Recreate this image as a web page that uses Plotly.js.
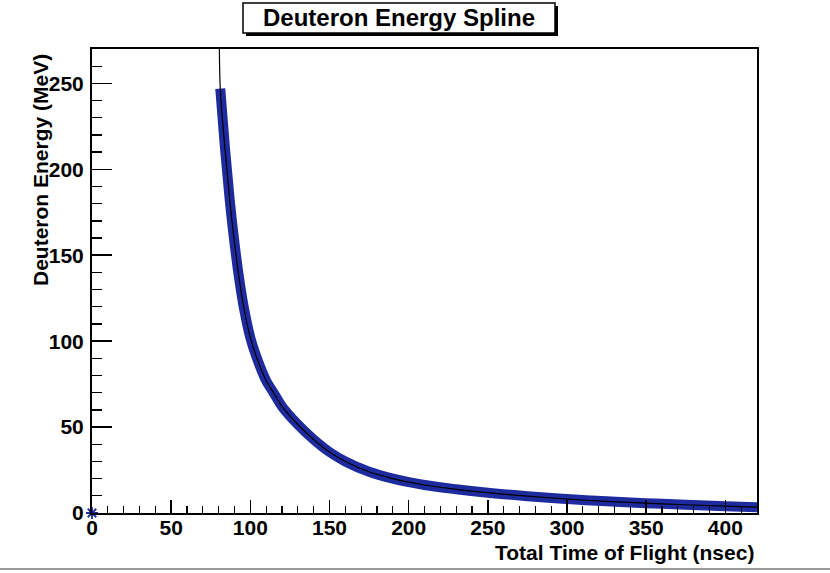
<!DOCTYPE html>
<html>
<head>
<meta charset="utf-8">
<script src="https://cdn.plot.ly/plotly-3.0.1.min.js"></script>
<style>
  html, body { margin: 0; padding: 0; background: #ffffff; }
  #chart { width: 830px; height: 573px; }
</style>
</head>
<body>
<div id="chart"></div>
<script>
// Spline knots: total time of flight (ns) and deuteron kinetic energy (MeV)
const timeNs = [81, 84, 87, 90, 93, 96, 100, 105, 110, 115, 120, 130, 140, 150, 160, 175, 190, 210, 230, 250, 275, 300, 325, 350, 375, 400, 420];
const energyMeV = [247, 212, 182, 157, 136, 119, 102, 88, 77, 69.5, 62, 51.5, 42.8, 35.5, 30, 24, 20, 16.3, 13.8, 11.8, 9.8, 8.1, 6.8, 5.7, 4.8, 4.0, 3.4];

// Table origin point
const originT = [0];
const originE = [0];

// Spline overshoot just before the first knot (runs off the top of the frame)
const leadT = [80.4];
const leadE = [300];

// Axis ranges and tick labels
const xRange = [0, 420];
const yRange = [0, 270];
const xTicks = [0, 50, 100, 150, 200, 250, 300, 350, 400];
const yTicks = [0, 50, 100, 150, 200, 250];

const BLUE = '#1d2b9e';
const FONT = 'Liberation Sans, Arial, Helvetica, sans-serif';

const band = {
  x: timeNs, y: energyMeV,
  type: 'scatter', mode: 'lines',
  line: { color: BLUE, width: 10, shape: 'spline', smoothing: 1 },
  hoverinfo: 'skip', showlegend: false
};

const spline = {
  x: leadT.concat(timeNs), y: leadE.concat(energyMeV),
  type: 'scatter', mode: 'lines',
  line: { color: '#000000', width: 1.2, shape: 'spline', smoothing: 1 },
  showlegend: false
};

const origin = {
  x: originT, y: originE,
  type: 'scatter', mode: 'markers',
  marker: { symbol: 'asterisk-open', size: 10, color: BLUE, line: { color: BLUE, width: 1.8 } },
  cliponaxis: false, showlegend: false
};

const tickFont = { family: FONT, size: 21, weight: 'bold', color: '#000000' };
const titleFont = { family: FONT, size: 21, weight: 'bold', color: '#000000' };

// plot-area geometry helpers (pixels -> paper fractions)
const L = 92, R = 757, T = 49, B = 513;
const px = v => (v - L) / (R - L);
const py = v => (B - v) / (B - T);

const layout = {
  width: 830, height: 573,
  margin: { l: L, r: 830 - R, t: T, b: 573 - B },
  paper_bgcolor: '#ffffff', plot_bgcolor: '#ffffff',
  showlegend: false,
  title: {
    text: 'Deuteron Energy Spline',
    font: { family: FONT, size: 24, weight: 'bold', color: '#000000' },
    xref: 'container', yref: 'container',
    x: 399 / 830, y: 1 - 18 / 573,
    xanchor: 'center', yanchor: 'middle'
  },
  xaxis: {
    range: xRange, tickvals: xTicks, ticktext: xTicks.map(String),
    ticks: 'inside', ticklen: 13, tickwidth: 1.5, tickcolor: '#000000',
    minor: { ticks: 'inside', ticklen: 7, dtick: 10, tick0: 0, tickwidth: 1.3, tickcolor: '#000000', showgrid: false },
    showline: true, linewidth: 2, linecolor: '#000000', mirror: true,
    showgrid: false, zeroline: false,
    tickfont: tickFont, ticklabelstandoff: -5
  },
  yaxis: {
    range: yRange, tickvals: yTicks, ticktext: yTicks.map(String),
    ticks: 'inside', ticklen: 20, tickwidth: 1.5, tickcolor: '#000000',
    minor: { ticks: 'inside', ticklen: 10, dtick: 10, tick0: 0, tickwidth: 1.3, tickcolor: '#000000', showgrid: false },
    showline: true, linewidth: 2, linecolor: '#000000', mirror: true,
    showgrid: false, zeroline: false,
    tickfont: tickFont, ticklabelstandoff: 2
  },
  annotations: [
    {
      text: 'Deuteron Energy (MeV)', textangle: -90,
      xref: 'paper', yref: 'paper', x: px(40), y: py(170),
      xanchor: 'center', yanchor: 'middle', showarrow: false,
      font: titleFont
    },
    {
      text: 'Total Time of Flight (nsec)',
      xref: 'paper', yref: 'paper', x: px(756), y: py(552),
      xanchor: 'right', yanchor: 'middle', showarrow: false,
      font: titleFont
    }
  ],
  shapes: [
    // title box shadow
    { type: 'rect', xref: 'paper', yref: 'paper', layer: 'above',
      x0: px(246), x1: px(558), y0: py(36), y1: py(6),
      fillcolor: '#000000', line: { width: 0 } },
    // title box
    { type: 'rect', xref: 'paper', yref: 'paper', layer: 'above',
      x0: px(243), x1: px(555), y0: py(33), y1: py(3),
      fillcolor: '#ffffff', line: { color: '#000000', width: 1.5 } },
    // page rule along the bottom
    { type: 'line', xref: 'paper', yref: 'paper', layer: 'above',
      x0: px(0), x1: px(830), y0: py(569), y1: py(569),
      line: { color: '#9a9a9a', width: 2 } }
  ]
};

Plotly.newPlot('chart', [band, spline, origin], layout, { staticPlot: true, displayModeBar: false });
</script>
</body>
</html>
